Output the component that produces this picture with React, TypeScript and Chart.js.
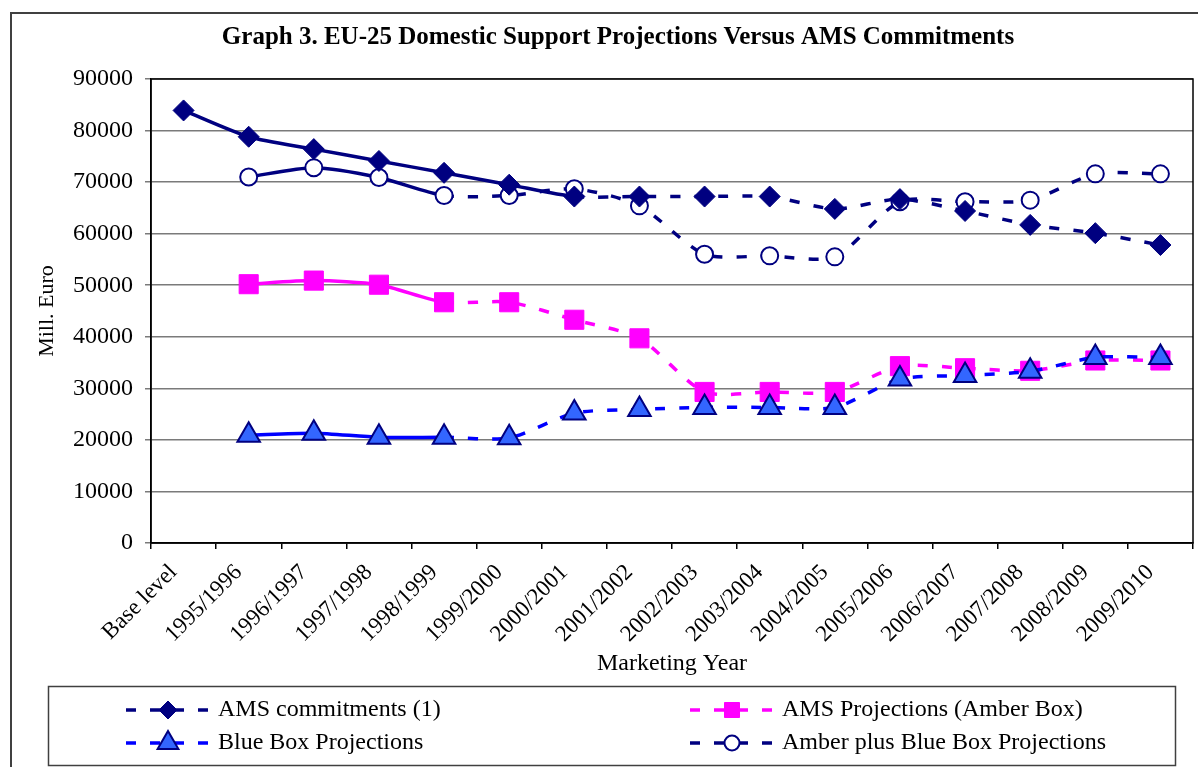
import React, { useEffect, useRef } from 'react';
import { Chart, registerables } from 'chart.js';

Chart.register(...registerables);

const categories = [
  'Base level', '1995/1996', '1996/1997', '1997/1998', '1998/1999', '1999/2000',
  '2000/2001', '2001/2002', '2002/2003', '2003/2004', '2004/2005', '2005/2006',
  '2006/2007', '2007/2008', '2008/2009', '2009/2010',
];

const amsCommitments = [83900, 78800, 76400, 74100, 71800, 69500, 67200, 67200, 67200, 67200, 64800, 66700, 64400, 61700, 60100, 57800];
const amberBox = [null, 50200, 50900, 50100, 46700, 46700, 43300, 39700, 29300, 29300, 29300, 34300, 33900, 33400, 35400, 35400];
const blueBox = [null, 20900, 21300, 20500, 20500, 20400, 25200, 25900, 26300, 26300, 26300, 31800, 32500, 33300, 36000, 36000];
const amberPlusBlue = [null, 71000, 72800, 70900, 67400, 67400, 68700, 65400, 56000, 55700, 55500, 66200, 66200, 66500, 71600, 71600];

const yTicks = [0, 10000, 20000, 30000, 40000, 50000, 60000, 70000, 80000, 90000];

const titleText = 'Graph 3. EU-25 Domestic Support Projections Versus AMS Commitments';
const xTitle = 'Marketing Year';
const yTitle = 'Mill. Euro';

const FONT = "'Liberation Serif', 'Times New Roman', serif";
const NAVY = '#000080';
const MAGENTA = '#FF00FF';
const BLUE = '#0000FF';
const TRI_FILL = '#3366FF';
const DASH = [10, 14];

const CANVAS_W = 1208;
const CANVAS_H = 767;

type Series = {
  label: string;
  data: (number | null)[];
  line: string;
  marker: 'diamond' | 'square' | 'triangle' | 'circle';
  fill: string;
  edge: string;
  solidUntil: number;
  order: number;
};

const series: Series[] = [
  { label: 'AMS commitments (1)', data: amsCommitments, line: NAVY, marker: 'diamond', fill: NAVY, edge: NAVY, solidUntil: 6, order: 2 },
  { label: 'AMS Projections (Amber Box)', data: amberBox, line: MAGENTA, marker: 'square', fill: MAGENTA, edge: MAGENTA, solidUntil: 4, order: 1 },
  { label: 'Blue Box Projections', data: blueBox, line: BLUE, marker: 'triangle', fill: TRI_FILL, edge: NAVY, solidUntil: 4, order: 0 },
  { label: 'Amber plus Blue Box Projections', data: amberPlusBlue, line: NAVY, marker: 'circle', fill: '#FFFFFF', edge: NAVY, solidUntil: 4, order: 3 },
];

const pointCfg: Record<string, { style: string; radius: number; bw: number }> = {
  diamond: { style: 'rectRot', radius: 10.5, bw: 1 },
  square: { style: 'rect', radius: 13.5, bw: 1 },
  triangle: { style: 'triangle', radius: 13, bw: 2 },
  circle: { style: 'circle', radius: 8.5, bw: 2 },
};

function drawMarker(ctx: CanvasRenderingContext2D, kind: string, x: number, y: number, s: Series) {
  ctx.save();
  ctx.setLineDash([]);
  ctx.fillStyle = s.fill;
  ctx.strokeStyle = s.edge;
  ctx.beginPath();
  if (kind === 'diamond') {
    const r = 9;
    ctx.moveTo(x, y - r); ctx.lineTo(x + r, y); ctx.lineTo(x, y + r); ctx.lineTo(x - r, y); ctx.closePath();
    ctx.lineWidth = 1;
  } else if (kind === 'square') {
    const h = 7.5;
    ctx.rect(x - h, y - h, 2 * h, 2 * h);
    ctx.lineWidth = 1;
  } else if (kind === 'triangle') {
    const r = 12;
    ctx.moveTo(x, y - r);
    ctx.lineTo(x + r * Math.sin(Math.PI * 2 / 3), y + r / 2);
    ctx.lineTo(x - r * Math.sin(Math.PI * 2 / 3), y + r / 2);
    ctx.closePath();
    ctx.lineWidth = 2;
  } else {
    ctx.arc(x, y, 7.5, 0, Math.PI * 2);
    ctx.lineWidth = 2;
  }
  ctx.fill();
  ctx.stroke();
  ctx.restore();
}

const decorPlugin = {
  id: 'decor',
  beforeDraw(chart: any) {
    const ctx = chart.ctx as CanvasRenderingContext2D;
    ctx.save();
    ctx.fillStyle = '#FFFFFF';
    ctx.fillRect(0, 0, chart.width, chart.height);
    ctx.restore();
  },
  afterDraw(chart: any) {
    const ctx = chart.ctx as CanvasRenderingContext2D;
    const area = chart.chartArea;
    ctx.save();
    // plot area border
    ctx.strokeStyle = '#000000';
    ctx.lineWidth = 1.5;
    ctx.strokeRect(area.left, area.top, area.right - area.left, area.bottom - area.top);
    // outer frame
    ctx.strokeStyle = '#404040';
    ctx.lineWidth = 2;
    ctx.strokeRect(11, 13, 1200, 800);
    // title
    ctx.fillStyle = '#000000';
    ctx.font = `bold 25px ${FONT}`;
    ctx.textAlign = 'center';
    ctx.textBaseline = 'middle';
    ctx.fillText(titleText, 618, 38);
    // legend box
    ctx.strokeStyle = '#404040';
    ctx.lineWidth = 1.5;
    ctx.strokeRect(48.5, 686.5, 1127, 79);
    const pos = [
      { x0: 126, y: 710 },
      { x0: 690, y: 710 },
      { x0: 126, y: 743 },
      { x0: 690, y: 743 },
    ];
    series.forEach((s, i) => {
      const p = pos[i];
      ctx.save();
      ctx.strokeStyle = s.line;
      ctx.lineWidth = 3.5;
      ctx.setLineDash(DASH);
      ctx.beginPath();
      ctx.moveTo(p.x0, p.y);
      ctx.lineTo(p.x0 + 84, p.y);
      ctx.stroke();
      ctx.restore();
      drawMarker(ctx, s.marker, p.x0 + 42, p.y, s);
      ctx.fillStyle = '#000000';
      ctx.font = `24px ${FONT}`;
      ctx.textAlign = 'left';
      ctx.textBaseline = 'middle';
      ctx.fillText(s.label, p.x0 + 92, p.y);
    });
    ctx.restore();
  },
};

export default function App() {
  const ref = useRef<HTMLCanvasElement>(null);

  useEffect(() => {
    const canvas = ref.current;
    if (!canvas) return;
    const datasets = series.map((s) => {
      const pc = pointCfg[s.marker];
      return {
        label: s.label,
        data: s.data,
        borderColor: s.line,
        backgroundColor: s.fill,
        borderWidth: 3.5,
        tension: 0.25,
        order: s.order,
        pointStyle: pc.style,
        pointRadius: pc.radius,
        pointHoverRadius: pc.radius,
        pointBackgroundColor: s.fill,
        pointBorderColor: s.edge,
        pointBorderWidth: pc.bw,
        spanGaps: false,
        segment: {
          borderDash: (ctx: any) => (ctx.p0DataIndex >= s.solidUntil ? DASH : undefined),
        },
      };
    });

    const chart = new Chart(canvas, {
      type: 'line',
      data: { labels: categories, datasets: datasets as any },
      plugins: [decorPlugin],
      options: {
        responsive: false,
        animation: false,
        layout: { padding: { top: 79, left: 0, right: 5, bottom: 81 } },
        plugins: {
          legend: { display: false },
          title: { display: false },
          tooltip: { enabled: false },
        },
        scales: {
          x: {
            type: 'category',
            offset: true,
            grid: {
              display: true,
              drawOnChartArea: false,
              offset: true,
              tickLength: 6,
              color: '#000000',
              lineWidth: 1.5,
            },
            border: { display: true, color: '#000000', width: 1.5 },
            ticks: {
              autoSkip: false,
              maxRotation: 45,
              minRotation: 45,
              padding: 10,
              labelOffset: -10,
              color: '#000000',
              font: { family: FONT, size: 23 },
            },
            title: {
              display: true,
              text: xTitle,
              color: '#000000',
              font: { family: FONT, size: 24 },
              padding: { top: 0, bottom: 8 },
            },
            afterFit: (scale: any) => {
              scale.height = 143;
              scale.paddingLeft = 0;
              scale.paddingRight = 0;
            },
          },
          y: {
            min: 0,
            max: 90000,
            afterBuildTicks: (scale: any) => {
              scale.ticks = yTicks.map((v) => ({ value: v }));
            },
            grid: {
              color: '#7a7a7a',
              lineWidth: 1.5,
              tickLength: 6,
            },
            border: { display: true, color: '#000000', width: 1.5 },
            ticks: {
              padding: 12,
              color: '#000000',
              font: { family: FONT, size: 24 },
              callback: (v: any) => String(v),
            },
            title: {
              display: true,
              text: yTitle,
              color: '#000000',
              font: { family: FONT, size: 22 },
              padding: { top: 34, bottom: 0 },
            },
            afterFit: (scale: any) => {
              scale.width = 151;
            },
          },
        },
      },
    });
    return () => chart.destroy();
  }, []);

  return (
    <div style={{ position: 'absolute', left: 0, top: 0, width: 1198, height: 767, overflow: 'hidden' }}>
      <canvas ref={ref} width={CANVAS_W} height={CANVAS_H} style={{ display: 'block' }} />
    </div>
  );
}
